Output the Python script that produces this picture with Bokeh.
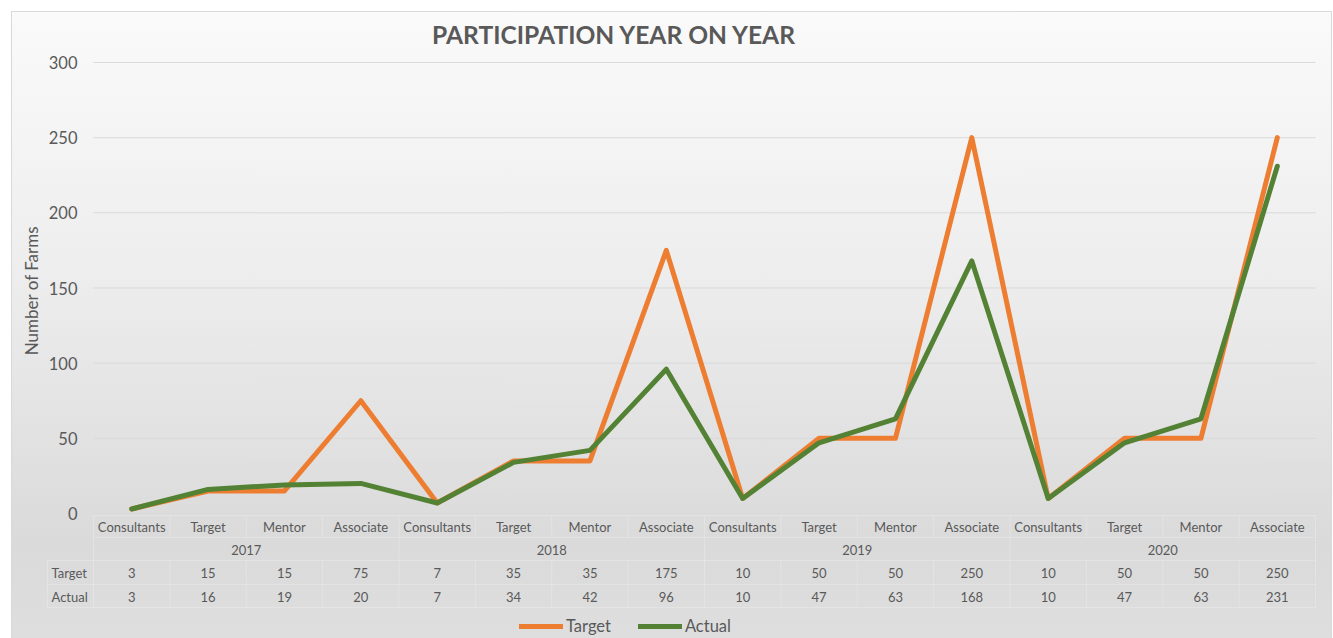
import math
from bokeh.plotting import figure
from bokeh.models import Range1d, Label, Legend, LegendItem
from bokeh.core.properties import value
from bokeh.embed import file_html
from bokeh.resources import INLINE

# ---------------- data ----------------
years = ["2017", "2018", "2019", "2020"]
roles = ["Consultants", "Target", "Mentor", "Associate"]
target = [3, 15, 15, 75, 7, 35, 35, 175, 10, 50, 50, 250, 10, 50, 50, 250]
actual = [3, 16, 19, 20, 7, 34, 42, 96, 10, 47, 63, 168, 10, 47, 63, 231]
y_ticks = [0, 50, 100, 150, 200, 250, 300]
series_names = ["Target", "Actual"]
title_text = "PARTICIPATION YEAR ON YEAR"
y_title = "Number of Farms"

# ---------------- layout (page pixels) ----------------
FIG_X, FIG_Y, FIG_W, FIG_H = 12, 12, 1319, 626
PL, PR, PT, PB = 93, 1315, 62, 513
YMAX = y_ticks[-1]
n = len(target)
CW = (PR - PL) / n
UY = (PB - PT) / YMAX


def dx(px):
    return (px - PL) / CW - 0.5


def dy(py):
    return (PB - py) / UY


FONT = "Lato"
TXT = "#595959"
ORANGE = "#ED7D31"
GREEN = "#548235"

p = figure(width=FIG_W, height=FIG_H,
           x_range=Range1d(dx(FIG_X), dx(FIG_X + FIG_W)),
           y_range=Range1d(dy(FIG_Y + FIG_H), dy(FIG_Y)),
           output_backend="svg", toolbar_location=None,
           x_axis_location=None, y_axis_location=None,
           min_border=0, title=None)
p.margin = (12, 0, 0, 12)
p.xgrid.visible = False
p.ygrid.visible = False
p.background_fill_alpha = 0
p.border_fill_alpha = 0
p.outline_line_color = None
p.styles = {
    "background": "linear-gradient(180deg, #fafafa 0%, #eeeeee 40%, #dadada 85%, #dedede 100%)",
    "outline": "1px solid #d9d9d9",
}

# gridlines
p.segment(x0=[-0.5] * len(y_ticks), x1=[n - 0.5] * len(y_ticks),
          y0=y_ticks, y1=y_ticks, line_color="#d9d9d9", line_width=1)

# y tick labels
p.text(x=[dx(77)] * len(y_ticks), y=y_ticks, text=[str(t) for t in y_ticks],
       text_font=value(FONT), text_font_size="16.5px", text_color=TXT,
       text_align="right", text_baseline="middle")

# series
xs = list(range(n))
r_t = p.line(xs, target, line_color=ORANGE, line_width=5, line_join="round", line_cap="round")
r_a = p.line(xs, actual, line_color=GREEN, line_width=5, line_join="round", line_cap="round")

# ---------------- data table ----------------
cats = [r for y in years for r in roles]
per = len(roles)
LINE = dict(line_color="white", line_alpha=0.22, line_width=1)
row_cat, row_year, row_t, row_a = dy(526), dy(549), dy(572), dy(596)
h_lines_py = [515, 537, 560, 584, 607]
# horizontal borders
hx0 = [dx(PL) if py < 560 else dx(47) for py in h_lines_py]
p.segment(x0=hx0, x1=[n - 0.5] * len(h_lines_py),
          y0=[dy(py) for py in h_lines_py], y1=[dy(py) for py in h_lines_py], **LINE)
# vertical borders
bounds = [k - 0.5 for k in range(n + 1)]
p.segment(x0=bounds, x1=bounds, y0=[dy(515)] * len(bounds), y1=[dy(537)] * len(bounds), **LINE)
ybounds = [k * per - 0.5 for k in range(len(years) + 1)]
p.segment(x0=ybounds, x1=ybounds, y0=[dy(537)] * len(ybounds), y1=[dy(560)] * len(ybounds), **LINE)
p.segment(x0=bounds + [dx(47)], x1=bounds + [dx(47)],
          y0=[dy(560)] * (len(bounds) + 1), y1=[dy(607)] * (len(bounds) + 1), **LINE)

TBL = dict(text_font=value(FONT), text_font_size="13px", text_color=TXT,
           text_baseline="middle")
p.text(x=xs, y=[row_cat] * n, text=cats, text_align="center", **TBL)
p.text(x=[k * per + (per - 1) / 2 for k in range(len(years))], y=[row_year] * len(years),
       text=years, text_align="center", **TBL)
p.text(x=xs, y=[row_t] * n, text=[str(v) for v in target], text_align="center", **TBL)
p.text(x=xs, y=[row_a] * n, text=[str(v) for v in actual], text_align="center", **TBL)
p.text(x=[dx(51)] * 2, y=[row_t, row_a], text=series_names, text_align="left", **TBL)

# titles
p.add_layout(Label(x=dx(614), y=dy(34), text=title_text, text_font=FONT,
                   text_font_style="bold", text_font_size="24.6px", text_color=TXT,
                   text_align="center", text_baseline="middle"))
p.add_layout(Label(x=dx(31), y=dy(290), text=y_title, angle=math.pi / 2,
                   text_font=FONT, text_font_size="17px", text_color=TXT,
                   text_align="center", text_baseline="middle"))

legend = Legend(items=[LegendItem(label=series_names[0], renderers=[r_t]),
                       LegendItem(label=series_names[1], renderers=[r_a])],
                orientation="horizontal", location=(507, 2),
                glyph_width=44, glyph_height=18, label_height=18,
                label_text_font=FONT, label_text_font_size="16.5px",
                label_text_color=TXT, background_fill_alpha=0,
                border_line_color=None, padding=0, margin=0,
                spacing=27, label_standoff=3)
p.add_layout(legend)

open("out.html", "w").write(file_html(p, INLINE))
